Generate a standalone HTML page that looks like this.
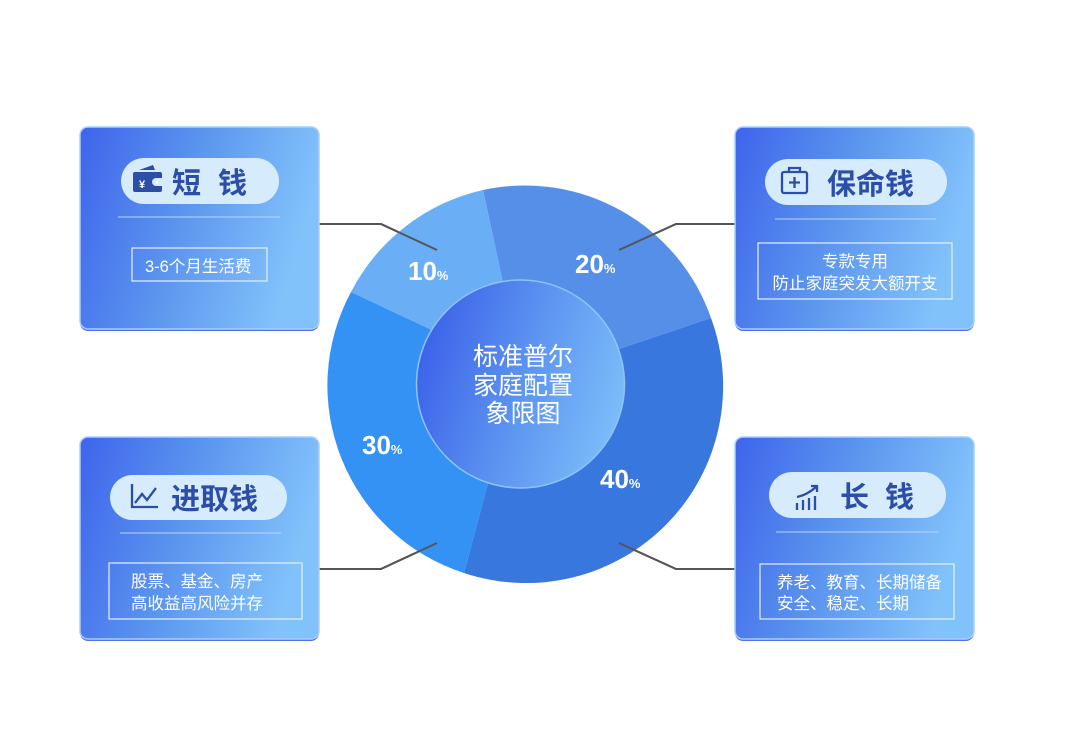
<!DOCTYPE html>
<html><head><meta charset="utf-8">
<style>
html,body{margin:0;padding:0;background:#fff;}
svg{display:block;}
text{font-family:"Liberation Sans","Noto Sans CJK SC",sans-serif;}
</style></head>
<body>
<svg width="1080" height="743" viewBox="0 0 1080 743" xmlns="http://www.w3.org/2000/svg">
<defs>
<linearGradient id="cg" x1="0" y1="0" x2="1" y2="0.25">
<stop offset="0" stop-color="#3e64ec"/><stop offset="0.5" stop-color="#5b95ee"/><stop offset="1" stop-color="#82c2fb"/>
</linearGradient>
<linearGradient id="ig" x1="0" y1="0.3" x2="1" y2="0.6">
<stop offset="0" stop-color="#3a60e9"/><stop offset="0.5" stop-color="#5b92f0"/><stop offset="1" stop-color="#7cbdf9"/>
</linearGradient>
</defs>

<g stroke="#555" stroke-width="2" fill="none">
<polyline points="319,224 381,224 437,250"/>
<polyline points="619,250 676,224 735,224"/>
<polyline points="319,569 381,569 437,543"/>
<polyline points="619,543 676,569 735,569"/>
</g>

<path d="M503,283 L483,190 A197,197 0 0 1 711,318 L619,349 Z" fill="#568fe8"/>
<path d="M619,349 L711,318 A197,197 0 0 1 464,573 L488,483 Z" fill="#3877de"/>
<path d="M488,483 L464,573 A197,197 0 0 1 351,292 L432,330 Z" fill="#3592f5"/>
<path d="M432,330 L351,292 A197,197 0 0 1 483,190 L503,283 Z" fill="#6aaef5"/>
<g stroke="#555" stroke-width="2">
<line x1="381" y1="224" x2="437" y2="250"/><line x1="619" y1="250" x2="676" y2="224"/>
<line x1="381" y1="569" x2="437" y2="543"/><line x1="619" y1="543" x2="676" y2="569"/>
</g>

<circle cx="520.5" cy="384" r="104" fill="url(#ig)" stroke="#8cc4f7" stroke-width="1.5"/>
<g fill="#fff" font-size="25" text-anchor="middle">
<text x="523" y="365">标准普尔</text>
<text x="523" y="394">家庭配置</text>
<text x="523" y="422">象限图</text>
</g>

<g fill="#fff" font-weight="bold">
<text x="408" y="280" font-size="26">10<tspan font-size="13">%</tspan></text>
<text x="575" y="273" font-size="26">20<tspan font-size="13">%</tspan></text>
<text x="362" y="454" font-size="26">30<tspan font-size="13">%</tspan></text>
<text x="600" y="488" font-size="26">40<tspan font-size="13">%</tspan></text>
</g>

<g fill="#4d72e6">
<rect x="80" y="129" width="239" height="202" rx="8"/>
<rect x="735" y="129" width="239" height="202" rx="8"/>
<rect x="80" y="439" width="239" height="202" rx="8"/>
<rect x="735" y="439" width="239" height="202" rx="8"/>
</g>
<g stroke="#a9cdfb" stroke-width="1.5">
<rect x="80" y="127" width="239" height="202" rx="8" fill="url(#cg)"/>
<rect x="735" y="127" width="239" height="202" rx="8" fill="url(#cg)"/>
<rect x="80" y="437" width="239" height="202" rx="8" fill="url(#cg)"/>
<rect x="735" y="437" width="239" height="202" rx="8" fill="url(#cg)"/>
</g>

<g fill="#d6ecfd">
<rect x="121" y="158" width="158" height="46" rx="23"/>
<rect x="765" y="159" width="182" height="46" rx="23"/>
<rect x="110" y="475" width="177" height="45" rx="22.5"/>
<rect x="769" y="472" width="177" height="46" rx="23"/>
</g>
<g stroke="#b9d6fb" stroke-width="1">
<line x1="118" y1="217" x2="280" y2="217"/>
<line x1="775" y1="219" x2="936" y2="219"/>
<line x1="120" y1="533" x2="281" y2="533"/>
<line x1="776" y1="532" x2="938" y2="532"/>
</g>
<g fill="none" stroke="#e6f1ff" stroke-width="1.2">
<rect x="132" y="248" width="135" height="33"/>
<rect x="758" y="243" width="194" height="56"/>
<rect x="109" y="563" width="193" height="56"/>
<rect x="760" y="564" width="194" height="55"/>
</g>

<g fill="#2c4ea8" font-size="29" font-weight="bold">
<text x="172" y="193">短</text><text x="218" y="193">钱</text>
<text x="827" y="194">保命钱</text>
<text x="171" y="509">进取钱</text>
<text x="840" y="507">长</text><text x="885" y="507">钱</text>
</g>

<g fill="#2c4ea8">
<path d="M133,172 h27 a2,2 0 0 1 2,2 v4 h-6 a4,4 0 0 0 0,8 h6 v4 a2,2 0 0 1 -2,2 h-25 a2,2 0 0 1 -2,-2 v-16 a2,2 0 0 1 2,-2z"/>
<path d="M139,170 l14,-5 l2,5z"/>
<circle cx="157" cy="182" r="1.5" fill="#fff"/>
<text x="139" y="188" font-size="11" fill="#fff" font-weight="bold">¥</text>
</g>
<g fill="none" stroke="#2c4ea8" stroke-width="2.3">
<rect x="782" y="172" width="25" height="21" rx="2"/>
<path d="M789,172 v-4 h11 v4"/>
<path d="M794.5,177 v11 M789,182.5 h11"/>
<path d="M132,484 v23 h26"/>
<path d="M135,503 l7,-9 l5,6 l9,-12"/>
<path d="M797,510 v-7 M803,510 v-10 M809,510 v-12 M815,510 v-14"/>
<path d="M797,497 q10,-2 19,-10 M811,486 h6 v6"/>
</g>

<g fill="#fff" font-size="16.5">
<text x="145" y="272">3-6个月生活费</text>
<text x="855" y="267" text-anchor="middle">专款专用</text>
<text x="855" y="289" text-anchor="middle">防止家庭突发大额开支</text>
<text x="131" y="587">股票、基金、房产</text>
<text x="131" y="609">高收益高风险并存</text>
<text x="777" y="588">养老、教育、长期储备</text>
<text x="777" y="609">安全、稳定、长期</text>
</g>
</svg>
</body></html>
